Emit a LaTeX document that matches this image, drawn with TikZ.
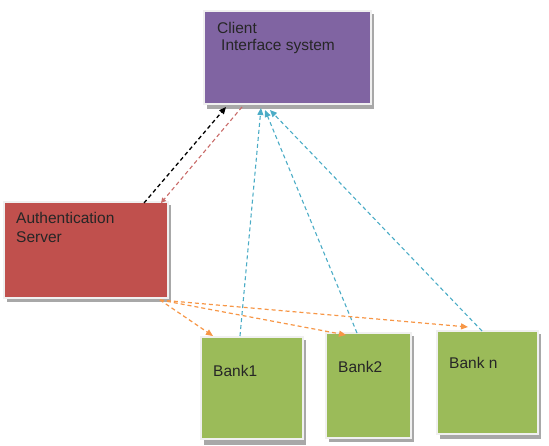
\documentclass[tikz,border=0pt]{standalone}
\usepackage{fontspec}
\setmainfont{Liberation Sans}
\usetikzlibrary{arrows.meta}
\definecolor{cpurple}{HTML}{8064A2}
\definecolor{cred}{HTML}{C0504D}
\definecolor{cgreen}{HTML}{9BBB59}
\definecolor{cblue}{HTML}{4BACC6}
\definecolor{corange}{HTML}{F79646}
\definecolor{cframe}{HTML}{F0F0F0}
\definecolor{cshadow}{HTML}{A8A8A8}
\tikzset{
  boxshape/.style={draw=cframe, line width=2.5pt, inner sep=0pt, outer sep=0pt, anchor=north west},
  shadowbox/.style={fill=cshadow, draw=none},
  lbl/.style={anchor=west, inner sep=0pt, font=\fontsize{15.5}{18}\selectfont, text=black!85},
  conn/.style={dashed, dash pattern=on 4pt off 3pt, line width=1.3pt, -{Triangle[length=7pt,width=6pt]}},
}
\begin{document}
\begin{tikzpicture}[x=1pt,y=-1pt]
\useasboundingbox (0,0) rectangle (549,446);
% shadows
\fill[shadowbox] (207,14) rectangle (374,109);
\fill[shadowbox] (7,205) rectangle (171,302);
\fill[shadowbox] (204,340) rectangle (306,445);
\fill[shadowbox] (329,336) rectangle (414,442);
\fill[shadowbox] (440,334) rectangle (541,439);
% boxes
\node[boxshape, fill=cpurple, minimum width=167pt, minimum height=93pt] (client) at (204,11) {};
\node[boxshape, fill=cred, minimum width=164pt, minimum height=96pt] (auth) at (4,202) {};
\node[boxshape, fill=cgreen, minimum width=102pt, minimum height=102pt] (bank1) at (201,337) {};
\node[boxshape, fill=cgreen, minimum width=85pt, minimum height=105pt] (bank2) at (326,333) {};
\node[boxshape, fill=cgreen, minimum width=101pt, minimum height=103pt] (bankn) at (437,331) {};
% labels
\node[lbl] (clientA) at (217,28) {Client};
\node[lbl] (clientB) at (221,47) {Interface system};
\node[lbl] (authA) at (16,218) {Authentication};
\node[lbl] (authB) at (16,237) {Server};
\node[lbl] (b1) at (213,371) {Bank1};
\node[lbl] (b2) at (338,367) {Bank2};
\node[lbl] (bn) at (449,363) {Bank n};
% connector end points
\coordinate (cA) at (226,107);
\coordinate (cB) at (242,107);
\coordinate (cC) at (261,108);
\coordinate (cD) at (265,110);
\coordinate (cE) at (270,110);
\coordinate (aA) at (144,203);
\coordinate (aB) at (161,203);
\coordinate (aC) at (160,300);
\coordinate (b1t) at (240,336);
\coordinate (b2t) at (357,333);
\coordinate (bnt) at (482,331);
\coordinate (b1o) at (213,336);
\coordinate (b2o) at (346,335);
\coordinate (bno) at (468,327);
% connectors
\draw[conn, black] (aA) -- (cA);
\draw[conn, cred!85, line width=1.1pt, -{Triangle[length=5pt,width=5pt]}] (cB) -- (aB);
\draw[conn, cblue, line width=1.1pt] (b1t) -- (cC);
\draw[conn, cblue, line width=1.1pt] (b2t) -- (cD);
\draw[conn, cblue, line width=1.1pt] (bnt) -- (cE);
\draw[conn, corange, line width=1.2pt] (aC) -- (b1o);
\draw[conn, corange, line width=1.2pt] (aC) -- (b2o);
\draw[conn, corange, line width=1.2pt] (aC) -- (bno);
\end{tikzpicture}
\end{document}
